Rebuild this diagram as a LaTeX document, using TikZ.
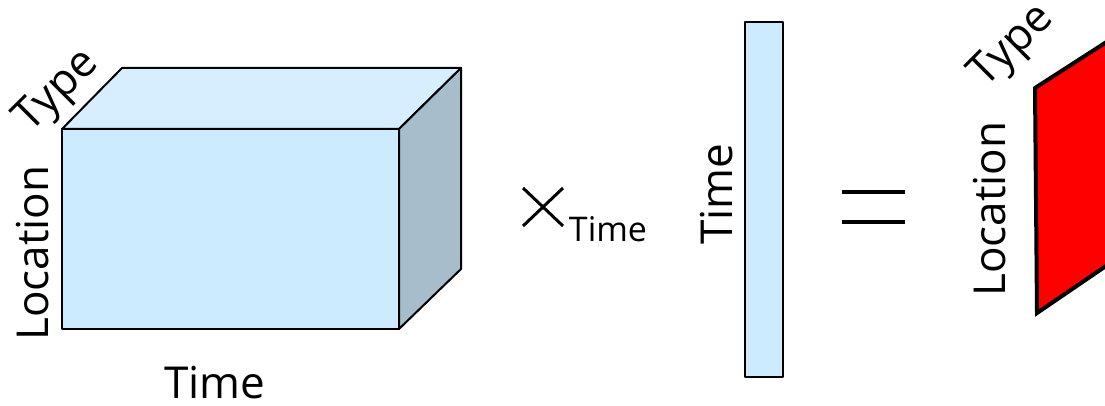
\documentclass[tikz,border=0pt]{standalone}
\usepackage{fontspec}
\setmainfont{Open Sans}
\definecolor{frontblue}{HTML}{CCEBFF}
\definecolor{topblue}{HTML}{D6EEFF}
\definecolor{sideblue}{HTML}{A7BDCC}
\definecolor{slabred}{HTML}{FF0000}
\begin{document}
\begin{tikzpicture}[x=1pt,y=-1pt,
  edge/.style={draw=black,line width=2pt,line join=round},
  biglbl/.style={font=\fontsize{44}{48}\selectfont,inner sep=0pt},
  sublbl/.style={font=\fontsize{34}{38}\selectfont,inner sep=0pt},
  opline/.style={draw=black,line width=3.5pt}]
\useasboundingbox (0,0) rectangle (1105,406);
\begin{scope}
\clip (0,0) rectangle (1105,406);
% cube
\coordinate (A) at (62,129);
\coordinate (B) at (399,129);
\coordinate (C) at (399,329);
\coordinate (D) at (62,329);
\coordinate (E) at (122,68);
\coordinate (F) at (461,68);
\coordinate (G) at (461,269);
\filldraw[fill=topblue,edge] (A)--(E)--(F)--(B)--cycle;
\filldraw[fill=sideblue,edge] (B)--(F)--(G)--(C)--cycle;
\filldraw[fill=frontblue,edge] (A)--(B)--(C)--(D)--cycle;
\node[biglbl,rotate=45] (ctype) at (58,92) {Type};
\node[biglbl,rotate=90] (cloc) at (33,253) {Location};
\node[biglbl] (ctime) at (215,383) {Time};
% times sign
\coordinate (x1) at (523,188);
\coordinate (x2) at (563,226);
\coordinate (x3) at (523,226);
\coordinate (x4) at (563,188);
\draw[opline,line width=3pt] (x1)--(x2);
\draw[opline,line width=3pt] (x3)--(x4);
\node[sublbl] (subtime) at (608,229) {Time};
% bar
\filldraw[fill=frontblue,edge] (745,22) rectangle (783,377);
\node[biglbl,rotate=90] (btime) at (717,194) {Time};
% equals
\coordinate (e1) at (842,192);
\coordinate (e2) at (905,192);
\coordinate (e3) at (842,222);
\coordinate (e4) at (905,222);
\draw[opline] (e1)--(e2);
\draw[opline] (e3)--(e4);
% red slab
\coordinate (R1) at (1035,88);
\coordinate (R2) at (1150,14);
\coordinate (R3) at (1150,236);
\coordinate (R4) at (1037,313);
\filldraw[fill=slabred,draw=black,line width=4pt,line join=miter] (R1)--(R2)--(R3)--(R4)--cycle;
\node[biglbl,rotate=45] (rtype) at (1013,47) {Type};
\node[biglbl,rotate=90] (rloc) at (990,209) {Location};
\end{scope}
\end{tikzpicture}
\end{document}
